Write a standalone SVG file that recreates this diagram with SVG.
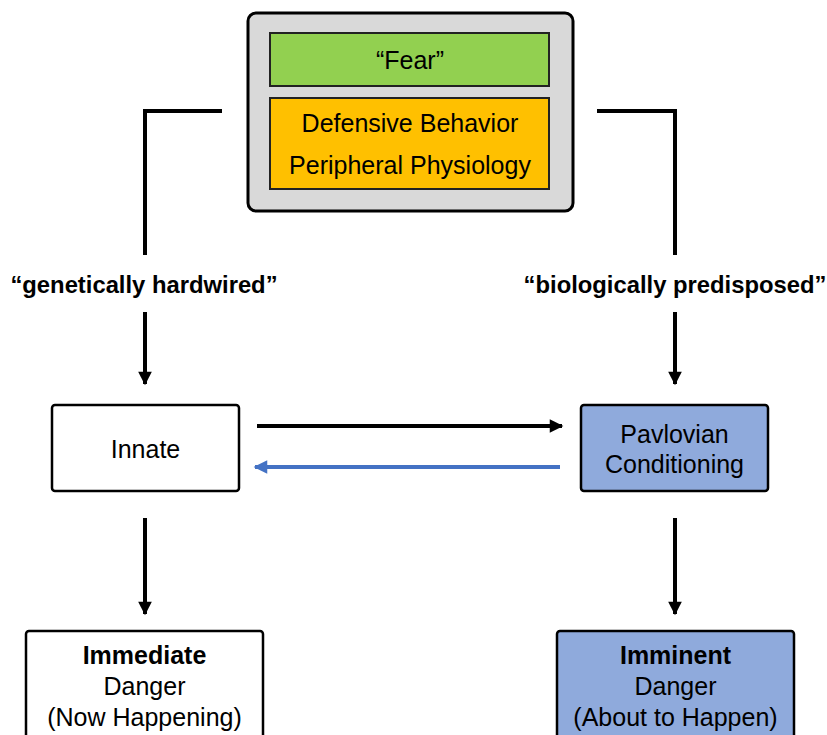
<svg xmlns="http://www.w3.org/2000/svg" width="827" height="735" viewBox="0 0 827 735">
  <style>
    .t { font-family: "Liberation Sans", Arial, sans-serif; font-size: 25px; fill: #000; text-anchor: middle; }
    .b { font-weight: bold; }
    .lbl { font-size: 23.8px; }
    .box { stroke: #000; stroke-width: 2.5; }
    .inner { stroke: #222; stroke-width: 2; }
    .wire { fill: none; stroke: #000; stroke-width: 4; }
    .wire.blue { stroke: #4472c4; }
  </style>
  <defs>
    <marker id="ah" viewBox="0 0 10 10" refX="9" refY="5" markerWidth="3.6" markerHeight="3.4" orient="auto" markerUnits="strokeWidth">
      <path d="M0,0 L10,5 L0,10 z" fill="#000"/>
    </marker>
    <marker id="ahBlue" viewBox="0 0 10 10" refX="9" refY="5" markerWidth="3.6" markerHeight="3.4" orient="auto" markerUnits="strokeWidth">
      <path d="M0,0 L10,5 L0,10 z" fill="#4472c4"/>
    </marker>
  </defs>
  <rect width="827" height="735" fill="#fff"/>

  <g id="fear-panel">
    <rect x="248" y="13" width="325" height="198" rx="8" fill="#d9d9d9" stroke="#000" stroke-width="3"/>
    <rect class="inner" x="270" y="33" width="279" height="53" fill="#92d050"/>
    <text class="t" x="410" y="69">“Fear”</text>
    <rect class="inner" x="270" y="98" width="279" height="91" fill="#ffc000"/>
    <text class="t" x="410" y="132">Defensive Behavior</text>
    <text class="t" x="410" y="174">Peripheral Physiology</text>
  </g>

  <g id="connectors">
    <path class="wire" d="M222,111 H145 V255"/>
    <path class="wire" d="M597,111 H675 V255"/>
    <line class="wire" x1="145" y1="312" x2="145" y2="384" marker-end="url(#ah)"/>
    <line class="wire" x1="675" y1="312" x2="675" y2="384" marker-end="url(#ah)"/>
    <line class="wire" x1="257" y1="426" x2="562" y2="426" marker-end="url(#ah)"/>
    <line class="wire blue" x1="560" y1="467" x2="255" y2="467" marker-end="url(#ahBlue)"/>
    <line class="wire" x1="145" y1="518" x2="145" y2="614" marker-end="url(#ah)"/>
    <line class="wire" x1="675" y1="518" x2="675" y2="614" marker-end="url(#ah)"/>
  </g>

  <g id="label-genetic">
    <text class="t b lbl" x="144" y="293">“genetically hardwired”</text>
  </g>
  <g id="label-biological">
    <text class="t b lbl" x="675" y="293">“biologically predisposed”</text>
  </g>

  <g id="innate">
    <rect class="box" x="52" y="405" width="187" height="86" rx="3" fill="#fff"/>
    <text class="t" x="145.5" y="458">Innate</text>
  </g>

  <g id="pavlovian">
    <rect class="box" x="581" y="405" width="187" height="86" rx="3" fill="#8faadc"/>
    <text class="t" x="674.5" y="443">Pavlovian</text>
    <text class="t" x="674.5" y="473">Conditioning</text>
  </g>

  <g id="immediate">
    <rect class="box" x="26" y="631" width="237" height="120" rx="3" fill="#fff"/>
    <text class="t b" x="144.5" y="664">Immediate</text>
    <text class="t" x="144.5" y="695">Danger</text>
    <text class="t" x="144.5" y="726">(Now Happening)</text>
  </g>

  <g id="imminent">
    <rect class="box" x="557" y="631" width="237" height="120" rx="3" fill="#8faadc"/>
    <text class="t b" x="675.5" y="664">Imminent</text>
    <text class="t" x="675.5" y="695">Danger</text>
    <text class="t" x="675.5" y="726">(About to Happen)</text>
  </g>
</svg>
